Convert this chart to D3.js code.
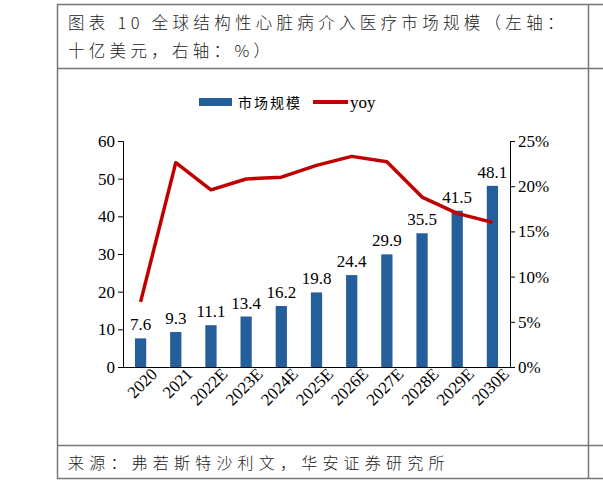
<!DOCTYPE html>
<html><head><meta charset="utf-8">
<script src="https://cdn.jsdelivr.net/npm/d3@7"></script>
<style>body{margin:0;background:#fff}</style></head>
<body><svg width="603" height="483"></svg>
<script>
const years = ["2020","2021","2022E","2023E","2024E","2025E","2026E","2027E","2028E","2029E","2030E"];
const market = [7.6, 9.3, 11.1, 13.4, 16.2, 19.8, 24.4, 29.9, 35.5, 41.5, 48.1];
const yoy = [7.2, 22.6, 19.6, 20.8, 21.0, 22.3, 23.3, 22.7, 18.8, 17.0, 16.0];
const leftTicks = [0, 10, 20, 30, 40, 50, 60];
const rightTicks = [0, 5, 10, 15, 20, 25];

const svg = d3.select("svg");
const cjk = "'Noto Sans CJK SC', sans-serif";
const serif = "'Liberation Serif', 'Times New Roman', serif";

// frame
svg.append("rect").attr("x", 57.5).attr("y", 4.5).attr("width", 560).attr("height", 474)
  .attr("fill", "none").attr("stroke", "#777").attr("stroke-width", 1.5);
svg.append("line").attr("x1", 57).attr("x2", 603).attr("y1", 68.5).attr("y2", 68.5).attr("stroke", "#777").attr("stroke-width", 1.5);
svg.append("line").attr("x1", 57).attr("x2", 603).attr("y1", 445.5).attr("y2", 445.5).attr("stroke", "#777").attr("stroke-width", 1.5);
svg.append("line").attr("x1", 588.5).attr("x2", 588.5).attr("y1", 4).attr("y2", 479).attr("stroke", "#777").attr("stroke-width", 1.5);

svg.append("text").attr("x", 68).attr("y", 29).attr("font-family", cjk).attr("font-size", 16.5).attr("fill", "#222")
  .attr("letter-spacing", 4.3).attr("font-weight", 300)
  .text("图表 10 全球结构性心脏病介入医疗市场规模（左轴：");
svg.append("text").attr("x", 68).attr("y", 57).attr("font-family", cjk).attr("font-size", 16.5).attr("fill", "#222")
  .attr("letter-spacing", 4.3).attr("font-weight", 300)
  .text("十亿美元，右轴：%）");
svg.append("text").attr("x", 68).attr("y", 469).attr("font-family", cjk).attr("font-size", 16).attr("fill", "#222")
  .attr("letter-spacing", 5.2).attr("font-weight", 300)
  .text("来源：弗若斯特沙利文，华安证券研究所");

// legend
svg.append("rect").attr("x", 199).attr("y", 98).attr("width", 33).attr("height", 8).attr("fill", "#245f9b");
svg.append("text").attr("x", 238).attr("y", 108).attr("font-family", cjk).attr("font-size", 14).attr("letter-spacing", 2).text("市场规模");
svg.append("line").attr("x1", 313).attr("x2", 348).attr("y1", 102).attr("y2", 102).attr("stroke", "#c00000").attr("stroke-width", 4);
svg.append("text").attr("x", 350).attr("y", 108).attr("font-family", serif).attr("font-size", 17).text("yoy");

const x = d3.scaleBand().domain(years).range([123, 510]).paddingInner(0.68).paddingOuter(0.34);
const yL = d3.scaleLinear().domain([0, 60]).range([367, 141]);
const yR = d3.scaleLinear().domain([0, 25]).range([367, 141]);

const gL = svg.append("g").attr("transform", "translate(123,0)")
  .call(d3.axisLeft(yL).tickValues(leftTicks).tickSizeOuter(0).tickSize(5));
const gR = svg.append("g").attr("transform", "translate(510,0)")
  .call(d3.axisRight(yR).tickValues(rightTicks).tickFormat(d => d + "%").tickSizeOuter(0).tickSize(5));
const gX = svg.append("g").attr("transform", "translate(0,367)")
  .call(d3.axisBottom(x).tickSize(0).tickSizeOuter(0));
[gL, gR, gX].forEach(g => {
  g.selectAll("path,line").attr("stroke", "#000");
  g.selectAll("text").attr("font-family", serif).attr("font-size", 17).attr("fill", "#000");
});
gX.select(".domain").attr("d", "M123,0.5H510");
gX.selectAll("text").attr("text-anchor", "end").attr("dx", "0.4em").attr("dy", "0.9em")
  .attr("transform", "rotate(-45)");

svg.selectAll(".bar").data(market).enter().append("rect")
  .attr("x", (d, i) => x(years[i])).attr("width", x.bandwidth())
  .attr("y", d => yL(d)).attr("height", d => 367 - yL(d)).attr("fill", "#245f9b");
svg.selectAll(".lbl").data(market).enter().append("text")
  .attr("x", (d, i) => x(years[i]) + x.bandwidth() / 2).attr("y", d => yL(d) - 8)
  .attr("text-anchor", "middle").attr("font-family", serif).attr("font-size", 17).text(d => d.toFixed(1));

svg.append("path").datum(yoy)
  .attr("d", d3.line().x((d, i) => x(years[i]) + x.bandwidth() / 2).y(d => yR(d)))
  .attr("fill", "none").attr("stroke", "#c00000").attr("stroke-width", 3.5).attr("stroke-linejoin", "round");
</script></body></html>
